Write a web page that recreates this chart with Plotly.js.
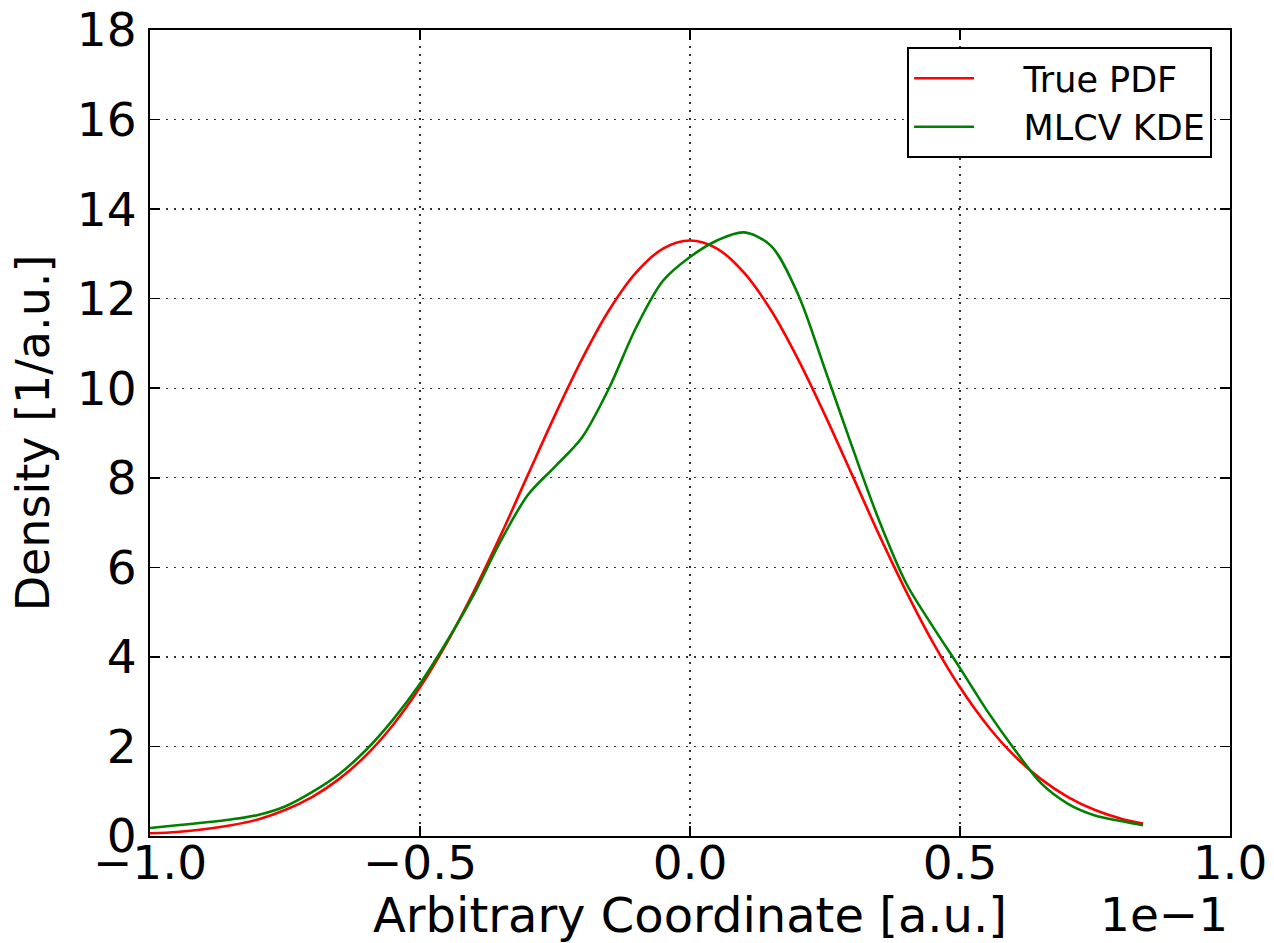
<!DOCTYPE html>
<html>
<head>
<meta charset="utf-8">
<script src="https://cdn.plot.ly/plotly-3.0.1.min.js"></script>
<style>html,body{margin:0;padding:0;background:#fff;}#chart{width:1274px;height:943px;}</style>
</head>
<body>
<div id="chart"></div>
<script>
// x in units of 1e-1
const xTrue = [-1.0,-0.95,-0.9,-0.85,-0.8,-0.75,-0.7,-0.65,-0.6,-0.55,-0.5,-0.45,-0.4,-0.35,-0.3,-0.25,-0.2,-0.15,-0.1,-0.05,0.0,0.05,0.1,0.15,0.2,0.25,0.3,0.35,0.4,0.45,0.5,0.55,0.6,0.65,0.7,0.75,0.8,0.839];
const yTrue = [0.06,0.09,0.15,0.24,0.37,0.58,0.87,1.27,1.80,2.48,3.32,4.32,5.47,6.73,8.07,9.40,10.65,11.74,12.58,13.12,13.30,13.12,12.58,11.74,10.65,9.40,8.07,6.73,5.47,4.32,3.32,2.48,1.80,1.27,0.87,0.58,0.38,0.28];
const xKde = [-1.0,-0.95,-0.9,-0.85,-0.8,-0.75,-0.7,-0.65,-0.6,-0.55,-0.5,-0.45,-0.4,-0.35,-0.3,-0.25,-0.2,-0.15,-0.1,-0.05,0.0,0.05,0.1,0.15,0.2,0.25,0.3,0.35,0.4,0.45,0.5,0.55,0.6,0.65,0.7,0.75,0.8,0.839];
const yKde = [0.18,0.24,0.30,0.37,0.47,0.66,0.98,1.38,1.92,2.60,3.40,4.35,5.40,6.60,7.62,8.25,8.90,10.00,11.35,12.40,12.93,13.30,13.48,13.18,12.10,10.42,8.70,7.05,5.65,4.67,3.75,2.80,1.95,1.18,0.72,0.46,0.33,0.24];
const xTicks = [-1.0,-0.5,0.0,0.5,1.0];
const yTicks = [0,2,4,6,8,10,12,14,16,18];
const seriesNames = ["True PDF","MLCV KDE"];
const offsetLabel = "1e\u22121";

const font = "DejaVu Sans, sans-serif";
const pad = "\u00a0\u00a0\u00a0\u00a0";
const traces = [
  {x:xTrue, y:yTrue, name:pad+seriesNames[0], type:"scatter", mode:"lines", line:{color:"#ff0000", width:2.6, shape:"spline", smoothing:0.9}},
  {x:xKde, y:yKde, name:pad+seriesNames[1], type:"scatter", mode:"lines", line:{color:"#008000", width:2.6, shape:"spline", smoothing:0.9}}
];
const axisCommon = {
  showline:true, linecolor:"#000", linewidth:2, mirror:"ticks",
  ticks:"inside", ticklen:10, tickwidth:1.5, tickcolor:"#000",
  showgrid:true, gridcolor:"#333", gridwidth:1.3, griddash:"2px,6px",
  zeroline:false, tickfont:{family:font, size:47, color:"#000"}
};
const layout = {
  width:1274, height:943,
  margin:{l:150, r:44, t:30, b:107},
  paper_bgcolor:"#fff", plot_bgcolor:"#fff",
  font:{family:font, color:"#000"},
  showlegend:true,
  legend:{x:0.701, y:0.979, xanchor:"left", yanchor:"top", bordercolor:"#000", borderwidth:2,
          bgcolor:"#fff", font:{family:font, size:35, color:"#000"}, itemwidth:60, tracegroupgap:0},
  xaxis:Object.assign({}, axisCommon, {range:[-1,1], tickvals:xTicks, tickformat:".1f", ticklabelstandoff:-15,
          title:{text:"Arbitrary Coordinate [a.u.]", font:{family:font, size:48}, standoff:14}}),
  yaxis:Object.assign({}, axisCommon, {range:[0,18], tickvals:yTicks, ticklabelstandoff:2,
          title:{text:"Density [1/a.u.]", font:{family:font, size:46}, standoff:13}}),
  annotations:[{text:offsetLabel, xref:"paper", yref:"paper", x:1, y:-0.098, xanchor:"right", yanchor:"middle",
          showarrow:false, font:{family:font, size:47, color:"#000"}}]
};
Plotly.newPlot("chart", traces, layout, {displayModeBar:false, staticPlot:true});
</script>
</body>
</html>
